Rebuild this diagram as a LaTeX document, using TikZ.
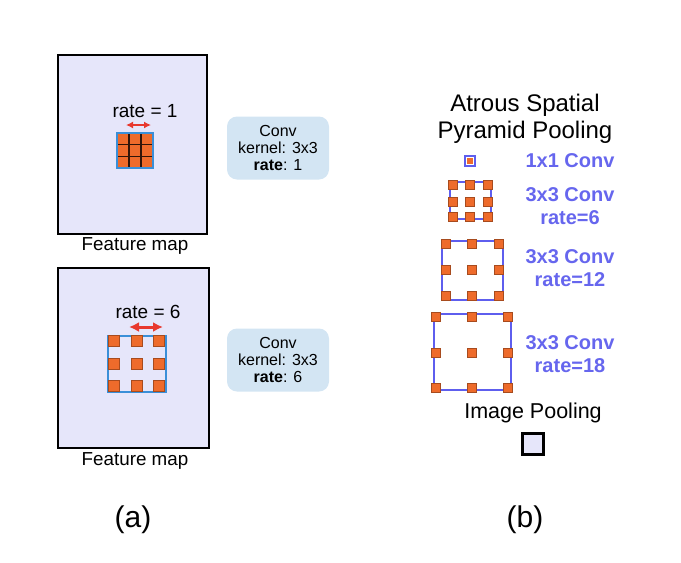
\documentclass[tikz,border=0pt]{standalone}
\usepackage{fontspec}
\setmainfont{Liberation Sans}
\usetikzlibrary{arrows.meta}
\definecolor{lav}{HTML}{E6E6FA}
\definecolor{org}{HTML}{EE6B2B}
\definecolor{lblue}{HTML}{3A8FD8}
\definecolor{pblue}{HTML}{5E5EEE}
\definecolor{tblue}{HTML}{6666EE}
\definecolor{convfill}{HTML}{D3E5F3}
\definecolor{arrred}{HTML}{E8382E}
\tikzset{
  fmap/.style={draw=black, fill=lav, line width=2pt},
  lbl/.style={font=\fontsize{18.8}{21}\selectfont, inner sep=0pt},
  ratelbl/.style={font=\fontsize{19}{22}\selectfont, inner sep=0pt},
  convbox/.style={fill=convfill, rounded corners=10pt, minimum width=102pt, minimum height=63pt, align=center, font=\fontsize{16}{17}\selectfont, inner sep=0pt},
  dot/.style={fill=org, draw=org!70!black, line width=0.4pt, minimum size=#1, inner sep=0pt, shape=rectangle},
  dot/.default=11pt,
  redarr/.style={{Latex[length=#1,width=#1]}-{Latex[length=#1,width=#1]}, draw=arrred, line width=2.6pt},
  aspp/.style={font=\fontsize{20}{23}\selectfont\bfseries, text=tblue, align=center, inner sep=0pt},
  title/.style={font=\fontsize{24}{27}\selectfont, inner sep=0pt},
  frame/.style={draw=pblue, line width=2.6pt},
}
\begin{document}
\begin{tikzpicture}[x=1pt,y=-1pt]
\useasboundingbox (0,0) rectangle (681,563);
% ---------- (a) top ----------
\draw[fmap] (58,55) rectangle (207,234);
\node[lbl] (fm1) at (135,246) {Feature map};
\node[ratelbl] (r1) at (145,111) {rate = 1};
\coordinate (a1l) at (126,125);
\coordinate (a1r) at (151,125);
\draw[redarr=7pt] (a1l) -- (a1r);
\fill[org] (117,133) rectangle (153,168);
\foreach \i in {1,2} {
  \draw[black!80!org, line width=1.2pt] ({117+\i*12},133) -- ({117+\i*12},168);
  \draw[black!80!org, line width=1.2pt] (117,{133+\i*11.67}) -- (153,{133+\i*11.67});
}
\draw[lblue, line width=2pt] (117,133) rectangle (153,168);
\node[convbox] (c1) at (278,148) {Conv\\kernel: 3x3\\\textbf{rate}: 1};
% ---------- (a) bottom ----------
\draw[fmap] (58,268) rectangle (209,448);
\node[lbl] (fm2) at (135,461) {Feature map};
\node[ratelbl] (r6) at (148,312) {rate = 6};
\coordinate (a6l) at (129,327);
\coordinate (a6r) at (163,327);
\draw[redarr=10pt, line width=3pt] (a6l) -- (a6r);
\draw[lblue, line width=2.8pt] (108,336) rectangle (166,392);
\foreach \x in {114,137,159} \foreach \y in {341,364,386}
  \node[dot] at (\x,\y) {};
\node[convbox] (c6) at (278,360) {Conv\\kernel: 3x3\\\textbf{rate}: 6};
% ---------- (b) ----------
\node[title] (t1) at (525,105) {Atrous Spatial};
\node[title] (t2) at (525,132) {Pyramid Pooling};
% 1x1
\node[draw=pblue, fill=white, line width=2.2pt, minimum size=10pt, inner sep=0pt] (k1) at (470,161) {};
\node[fill=org, minimum size=6pt, inner sep=0pt] at (k1) {};
\node[aspp] (l1) at (570,161) {1x1 Conv};
% rate 6
\draw[frame] (450,182) rectangle (491,219);
\foreach \x in {453,470,488} \foreach \y in {185,202,217}
  \node[dot=9pt] at (\x,\y) {};
\node[aspp] (l6) at (570,206) {3x3 Conv\\rate=6};
% rate 12
\draw[frame] (442,241) rectangle (503,300);
\foreach \x in {446,472,499} \foreach \y in {244,270,296}
  \node[dot=9pt] at (\x,\y) {};
\node[aspp] (l12) at (570,268) {3x3 Conv\\rate=12};
% rate 18
\draw[frame] (434,314) rectangle (511,390);
\foreach \x in {436,472,508} \foreach \y in {317,353,388}
  \node[dot=9pt] at (\x,\y) {};
\node[aspp] (l18) at (570,354) {3x3 Conv\\rate=18};
% image pooling
\node[lbl, font=\fontsize{21.5}{24}\selectfont] (ip) at (533,413) {Image Pooling};
\node[draw=black, fill=lav, line width=2.4pt, minimum size=21pt, inner sep=0pt] (ipb) at (533,444) {};
% captions
\node[font=\fontsize{30}{34}\selectfont, inner sep=0pt] (ca) at (133,520) {(a)};
\node[font=\fontsize{30}{34}\selectfont, inner sep=0pt] (cb) at (525,520) {(b)};
\end{tikzpicture}
\end{document}
